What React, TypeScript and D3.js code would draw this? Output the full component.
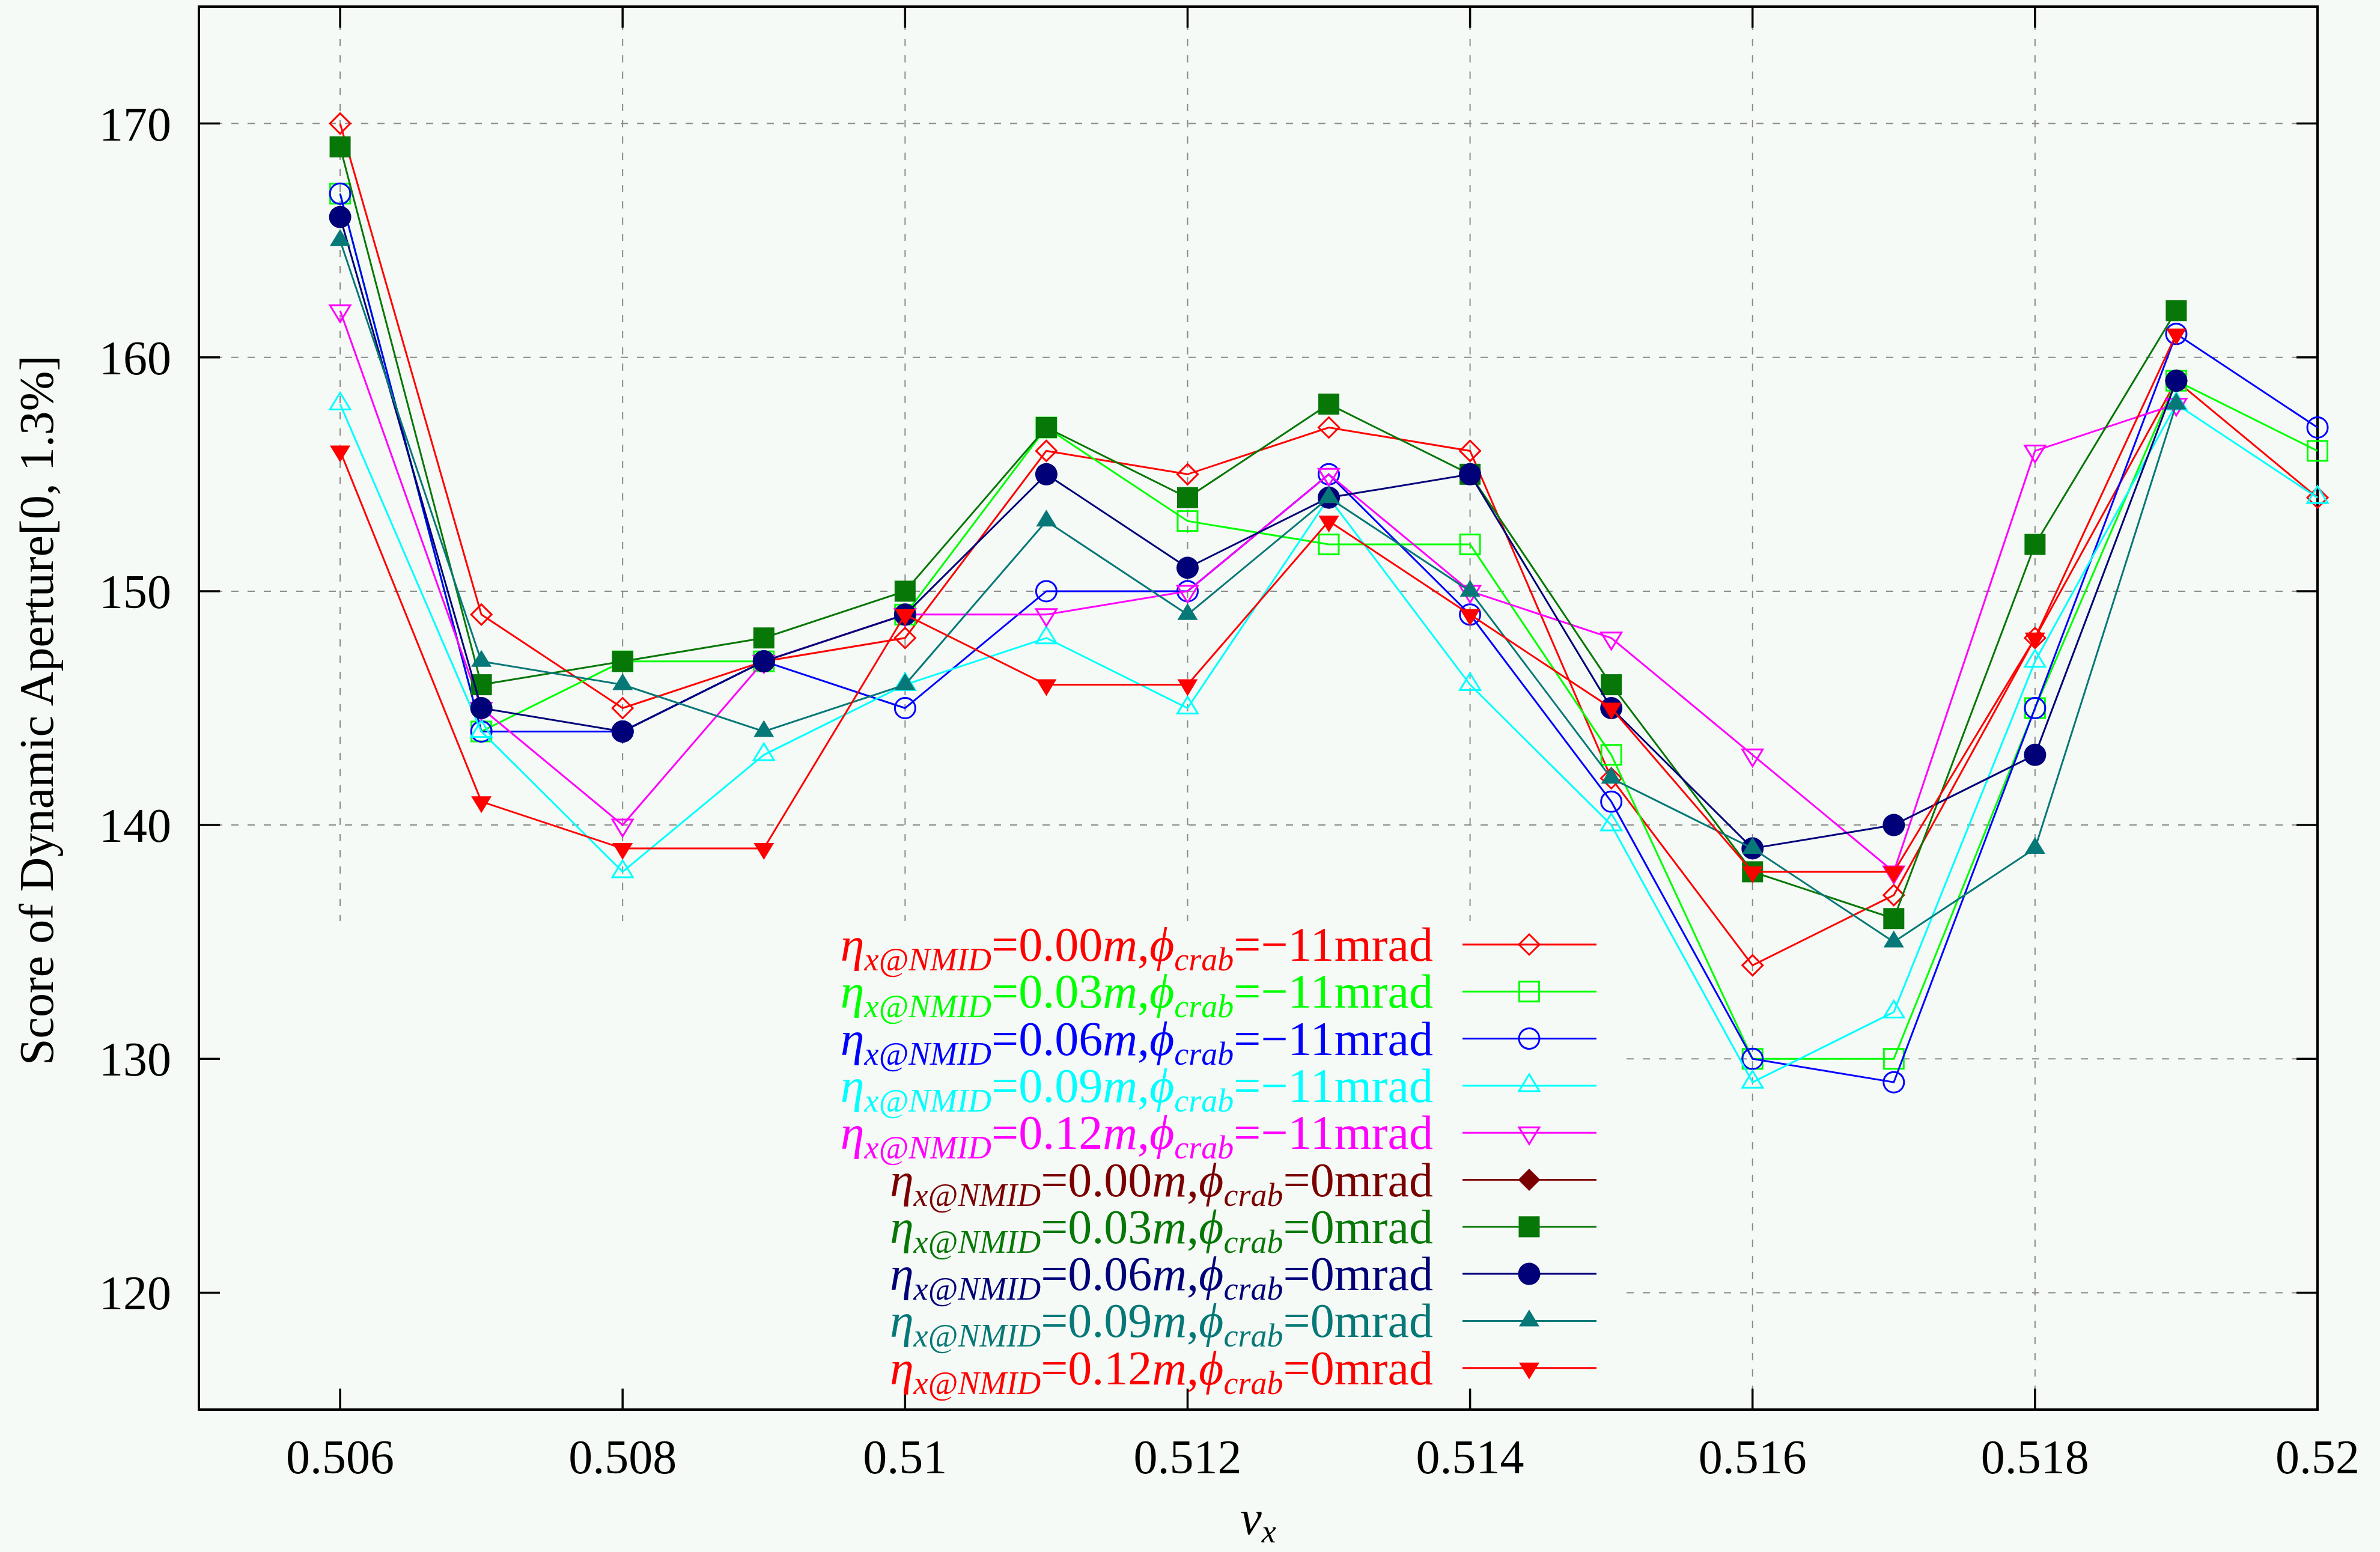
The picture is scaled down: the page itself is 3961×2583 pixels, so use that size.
import React from 'react';
import * as d3 from 'd3';

// Horizontal tune values scanned
const nuX = [0.506, 0.507, 0.508, 0.509, 0.51, 0.511, 0.512, 0.513, 0.514, 0.515, 0.516, 0.517, 0.518, 0.519, 0.52];

// Dynamic aperture score per dispersion / crab setting
const daEta000CrabM11 = [170, 149, 145, 147, 148, 156, 155, 157, 156, 142, 134, 137, 148, 159, 154];
const daEta003CrabM11 = [167, 144, 147, 147, 149, 157, 153, 152, 152, 143, 130, 130, 145, 159, 156];
const daEta006CrabM11 = [167, 144, 144, 147, 145, 150, 150, 155, 149, 141, 130, 129, 145, 161, 157];
const daEta009CrabM11 = [158, 144, 138, 143, 146, 148, 145, 154, 146, 140, 129, 132, 147, 158, 154];
const daEta012CrabM11 = [162, 145, 140, 147, 149, 149, 150, 155, 150, 148, 143, 138, 156, 158];
const daEta000Crab0: number[] = [];
const daEta003Crab0 = [169, 146, 147, 148, 150, 157, 154, 158, 155, 146, 138, 136, 152, 162];
const daEta006Crab0 = [166, 145, 144, 147, 149, 155, 151, 154, 155, 145, 139, 140, 143, 159];
const daEta009Crab0 = [165, 147, 146, 144, 146, 153, 149, 154, 150, 142, 139, 135, 139, 158];
const daEta012Crab0 = [156, 141, 139, 139, 149, 146, 146, 153, 149, 145, 138, 138, 148, 161];

const etaValues = ['0.00', '0.03', '0.06', '0.09', '0.12'];
const crabValues = ['\u221211', '0'];

const xTickValues = [0.506, 0.508, 0.51, 0.512, 0.514, 0.516, 0.518, 0.52];
const xTickLabels = ['0.506', '0.508', '0.51', '0.512', '0.514', '0.516', '0.518', '0.52'];
const yTickValues = [120, 130, 140, 150, 160, 170];
const yTickLabels = ['120', '130', '140', '150', '160', '170'];

type Sym = 'diamond' | 'square' | 'circle' | 'triUp' | 'triDown';

const series = [
  { values: daEta000CrabM11, eta: etaValues[0], crab: crabValues[0], color: '#ff0000', sym: 'diamond' as Sym, filled: false },
  { values: daEta003CrabM11, eta: etaValues[1], crab: crabValues[0], color: '#00ff00', sym: 'square' as Sym, filled: false },
  { values: daEta006CrabM11, eta: etaValues[2], crab: crabValues[0], color: '#0000ff', sym: 'circle' as Sym, filled: false },
  { values: daEta009CrabM11, eta: etaValues[3], crab: crabValues[0], color: '#00ffff', sym: 'triUp' as Sym, filled: false },
  { values: daEta012CrabM11, eta: etaValues[4], crab: crabValues[0], color: '#ff00ff', sym: 'triDown' as Sym, filled: false },
  { values: daEta000Crab0, eta: etaValues[0], crab: crabValues[1], color: '#7a0000', sym: 'diamond' as Sym, filled: true },
  { values: daEta003Crab0, eta: etaValues[1], crab: crabValues[1], color: '#077707', sym: 'square' as Sym, filled: true },
  { values: daEta006Crab0, eta: etaValues[2], crab: crabValues[1], color: '#000078', sym: 'circle' as Sym, filled: true },
  { values: daEta009Crab0, eta: etaValues[3], crab: crabValues[1], color: '#077878', sym: 'triUp' as Sym, filled: true },
  { values: daEta012Crab0, eta: etaValues[4], crab: crabValues[1], color: '#ff0000', sym: 'triDown' as Sym, filled: true },
];

const W = 3961;
const H = 2583;
const BG = '#f6faf6';
const FONT = '"Liberation Serif", "Times New Roman", serif';

const plot = { left: 331, right: 3857, top: 11, bottom: 2346 };

function Marker({ sym, cx, cy, color, filled }: { sym: Sym; cx: number; cy: number; color: string; filled: boolean }) {
  const fill = filled ? color : 'none';
  const stroke = filled ? 'none' : color;
  const sw = 3;
  if (sym === 'circle') {
    return <circle cx={cx} cy={cy} r={filled ? 18.5 : 17} fill={fill} stroke={stroke} strokeWidth={sw} />;
  }
  if (sym === 'square') {
    const s = filled ? 35 : 33;
    return <rect x={cx - s / 2} y={cy - s / 2} width={s} height={s} fill={fill} stroke={stroke} strokeWidth={sw} />;
  }
  let pts: [number, number][];
  if (sym === 'diamond') {
    const r = filled ? 18.5 : 17;
    pts = [[cx, cy - r], [cx + r, cy], [cx, cy + r], [cx - r, cy]];
  } else if (sym === 'triUp') {
    pts = [[cx, cy - 19], [cx + 17, cy + 9], [cx - 17, cy + 9]];
  } else {
    pts = [[cx, cy + 19], [cx + 17, cy - 9], [cx - 17, cy - 9]];
  }
  return (
    <polygon
      points={pts.map((p) => p.join(',')).join(' ')}
      fill={fill}
      stroke={stroke}
      strokeWidth={sw}
      strokeLinejoin="miter"
    />
  );
}

export default function App() {
  const x = d3.scaleLinear().domain([0.505, 0.52]).range([plot.left, plot.right]);
  const y = d3.scaleLinear().domain([115, 175]).range([plot.bottom, plot.top]);

  const line = d3
    .line<number>()
    .x((_, i) => x(nuX[i]))
    .y((d) => y(d));

  const tickLen = 35;
  const keyTop = 1533;
  const keyRight = 2700;
  const keyRow0 = 1572;
  const keyRowStep = 78.3;
  const keyTextRight = 2385;
  const keySampleL = 2434;
  const keySampleR = 2657;
  const keySampleMid = 2545;

  return (
    <svg
      width={W}
      height={H}
      viewBox={`0 0 ${W} ${H}`}
      style={{ position: 'absolute', left: 0, top: 0, display: 'block' }}
      fontFamily={FONT}
    >
      <rect x={0} y={0} width={W} height={H} fill={BG} />

      {/* grid */}
      <g stroke="#8a8a8a" strokeWidth={2} strokeDasharray="12,15">
        {yTickValues.map((v) => (
          <line key={`gy${v}`} x1={plot.left} x2={plot.right} y1={y(v)} y2={y(v)} />
        ))}
        {xTickValues.map((v) => (
          <line key={`gx${v}`} x1={x(v)} x2={x(v)} y1={plot.top} y2={plot.bottom} />
        ))}
      </g>

      {/* opaque key background */}
      <rect x={plot.left + 2} y={keyTop} width={keyRight - plot.left - 2} height={plot.bottom - keyTop - 2} fill={BG} />

      {/* frame and ticks */}
      <g stroke="#000" strokeWidth={3.5}>
        {yTickValues.map((v) => (
          <g key={`ty${v}`}>
            <line x1={plot.left} x2={plot.left + tickLen} y1={y(v)} y2={y(v)} />
            <line x1={plot.right} x2={plot.right - tickLen} y1={y(v)} y2={y(v)} />
          </g>
        ))}
        {xTickValues.map((v) => (
          <g key={`tx${v}`}>
            <line x1={x(v)} x2={x(v)} y1={plot.bottom} y2={plot.bottom - tickLen} />
            <line x1={x(v)} x2={x(v)} y1={plot.top} y2={plot.top + tickLen} />
          </g>
        ))}
        <rect
          x={plot.left}
          y={plot.top}
          width={plot.right - plot.left}
          height={plot.bottom - plot.top}
          fill="none"
          strokeWidth={4}
        />
      </g>

      {/* tick labels */}
      <g fontSize={80} fill="#000">
        {yTickValues.map((v, i) => (
          <text key={`ly${v}`} x={285} y={y(v) + 28} textAnchor="end">
            {yTickLabels[i]}
          </text>
        ))}
        {xTickValues.map((v, i) => (
          <text key={`lx${v}`} x={x(v)} y={2452} textAnchor="middle">
            {xTickLabels[i]}
          </text>
        ))}
      </g>

      {/* axis titles */}
      <text x={88} y={1182} fontSize={80} textAnchor="middle" transform="rotate(-90 88 1182)">
        Score of Dynamic Aperture[0, 1.3%]
      </text>
      <text x={2094} y={2553} fontSize={80} textAnchor="middle">
        <tspan fontStyle="italic">ν</tspan>
        <tspan fontStyle="italic" fontSize={54} dy={14}>x</tspan>
      </text>

      {/* data */}
      {series.map((s, si) => (
        <g key={`s${si}`}>
          {s.values.length > 1 && (
            <path d={line(s.values) || ''} fill="none" stroke={s.color} strokeWidth={3} strokeLinejoin="miter" />
          )}
          {s.values.map((v, i) => (
            <Marker key={i} sym={s.sym} cx={x(nuX[i])} cy={y(v)} color={s.color} filled={s.filled} />
          ))}
        </g>
      ))}

      {/* key */}
      {series.map((s, si) => {
        const ry = keyRow0 + si * keyRowStep;
        return (
          <g key={`k${si}`}>
            <text x={keyTextRight} y={ry + 27} textAnchor="end" fontSize={80} fill={s.color}>
              <tspan fontStyle="italic">η</tspan>
              <tspan fontStyle="italic" fontSize={54} dy={16}>x@NMID</tspan>
              <tspan dy={-16}>={s.eta}</tspan>
              <tspan fontStyle="italic">m</tspan>
              <tspan>,</tspan>
              <tspan fontStyle="italic">ϕ</tspan>
              <tspan fontStyle="italic" fontSize={54} dy={16}>crab</tspan>
              <tspan dy={-16}>={s.crab}mrad</tspan>
            </text>
            <line x1={keySampleL} x2={keySampleR} y1={ry} y2={ry} stroke={s.color} strokeWidth={3} />
            <Marker sym={s.sym} cx={keySampleMid} cy={ry} color={s.color} filled={s.filled} />
          </g>
        );
      })}
    </svg>
  );
}
